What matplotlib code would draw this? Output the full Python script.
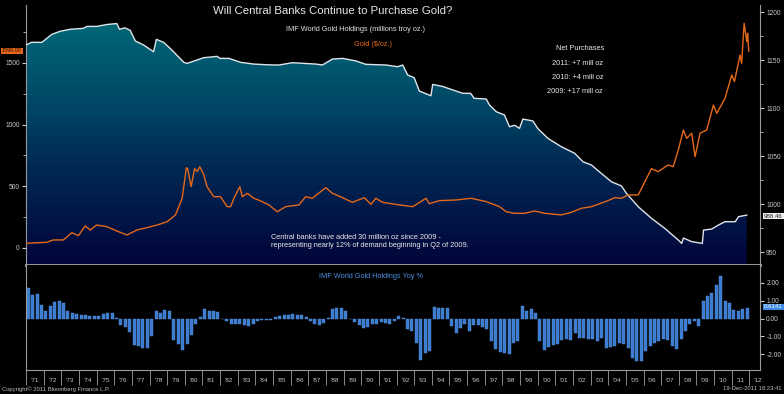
import numpy as np
import matplotlib
matplotlib.use('Agg')
import matplotlib.pyplot as plt
from matplotlib.colors import LinearSegmentedColormap
from matplotlib.patches import Polygon
from matplotlib.ticker import FixedLocator, MultipleLocator, NullFormatter

plt.rcParams['font.family'] = ['Liberation Sans Narrow', 'Liberation Sans', 'DejaVu Sans']

# ---------------- data ----------------
hold_years = [1971.0, 1971.3, 1971.9, 1972.46, 1972.95, 1973.5, 1974.26, 1974.45, 1975.0, 1975.6,
              1976.15, 1976.3, 1976.6, 1976.9, 1977.2, 1977.67, 1978.23, 1978.39, 1978.8, 1979.27,
              1979.94, 1980.13, 1981.07, 1981.83, 1982.0, 1982.5, 1983.16, 1983.9, 1984.7, 1985.34,
              1986.1, 1987.42, 1987.8, 1988.37, 1988.94, 1989.7, 1990.26, 1991.4, 1992.06, 1992.35,
              1992.63, 1993.0, 1993.29, 1993.95, 1994.05, 1994.62, 1995.37, 1995.76, 1996.2, 1996.4,
              1997.08, 1997.27, 1997.65, 1998.12, 1998.4, 1998.7, 1998.97, 1999.16, 1999.73, 2000.0,
              2000.58, 2001.34, 2002.1, 2002.57, 2003.05, 2003.6, 2004.18, 2004.75, 2005.03, 2005.7,
              2006.45, 2007.2, 2007.97, 2008.16, 2008.26, 2008.73, 2009.33, 2009.4, 2009.86, 2010.24,
              2010.62, 2011.2, 2011.38, 2011.85]
hold_values = [1165.6, 1168.4, 1168.4, 1176.7, 1180.0, 1182.0, 1183.0, 1185.0, 1185.0, 1187.0,
               1188.0, 1182.0, 1183.5, 1181.0, 1169.8, 1165.6, 1158.6, 1171.5, 1168.4, 1160.4,
               1147.6, 1146.5, 1152.4, 1153.8, 1151.7, 1151.7, 1147.6, 1145.8, 1145.0, 1144.8,
               1147.2, 1145.8, 1144.8, 1151.0, 1151.7, 1149.0, 1145.5, 1144.8, 1143.0, 1144.8,
               1134.4, 1131.6, 1117.7, 1112.8, 1124.6, 1122.4, 1117.7, 1115.3, 1115.3, 1110.1,
               1109.4, 1103.1, 1096.2, 1092.7, 1080.5, 1082.0, 1078.8, 1088.5, 1086.5, 1078.8,
               1068.4, 1059.7, 1052.8, 1044.0, 1040.6, 1032.0, 1023.2, 1018.8, 1011.1, 997.2,
               985.1, 974.7, 962.5, 959.0, 964.6, 960.8, 959.0, 972.9, 973.9, 978.1,
               981.6, 981.6, 986.8, 988.5]

gold_years = [1971.0, 1972.17, 1972.55, 1973.12, 1973.6, 1973.97, 1974.35, 1974.64, 1975.0, 1975.58,
              1976.15, 1976.72, 1977.29, 1977.86, 1978.43, 1979.0, 1979.47, 1979.85, 1980.09, 1980.16,
              1980.36, 1980.55, 1980.7, 1980.85, 1981.08, 1981.26, 1981.64, 1982.02, 1982.4, 1982.6,
              1982.78, 1983.12, 1983.26, 1983.54, 1983.92, 1984.3, 1984.77, 1985.24, 1985.72, 1986.47,
              1986.85, 1987.23, 1987.99, 1988.37, 1988.94, 1989.5, 1990.17, 1990.55, 1990.83, 1991.21,
              1992.16, 1992.92, 1993.67, 1993.86, 1994.43, 1995.37, 1996.23, 1997.08, 1997.84, 1998.22,
              1998.69, 1999.26, 1999.83, 2000.4, 2001.34, 2001.91, 2002.48, 2003.05, 2003.52, 2003.99,
              2004.37, 2004.75, 2005.13, 2005.7, 2006.17, 2006.45, 2006.83, 2007.4, 2007.68, 2007.97,
              2008.26, 2008.44, 2008.73, 2008.92, 2009.2, 2009.58, 2009.96, 2010.15, 2010.62, 2011.0,
              2011.15, 2011.47, 2011.56, 2011.7, 2011.85, 2011.9, 2011.96]
gold_values = [38, 46, 65, 65, 124, 100, 178, 146, 186, 173,
               138, 105, 146, 165, 186, 213, 268, 403, 651, 643,
               497, 643, 619, 659, 592, 497, 416, 416, 335, 335,
               403, 497, 416, 443, 403, 381, 349, 294, 335, 349,
               416, 403, 489, 443, 408, 370, 408, 354, 403, 370,
               349, 335, 403, 359, 384, 389, 403, 376, 335, 294,
               281, 281, 300, 281, 268, 289, 322, 335, 359, 384,
               408, 403, 430, 430, 565, 643, 619, 673, 659, 795,
               957, 889, 930, 740, 930, 957, 1159, 1092, 1214, 1403,
               1349, 1565, 1497, 1822, 1673, 1741, 1596]

# IMF World Gold Holdings YoY %, quarterly 1971Q1 .. 2011Q4
yoy_start_year = 1971
yoy_values = [1.7, 1.3, 1.4, 0.75,
              0.4, 0.7, 0.95, 1.0,
              0.85, 0.45, 0.3, 0.24,
              0.22, 0.2, 0.15, 0.15,
              0.15, 0.28, 0.3, 0.3,
              0.05, -0.35, -0.45, -0.75,
              -1.5, -1.55, -1.62, -1.66,
              -0.97, 0.45, 0.3, 0.47,
              0.43, -1.2, -1.45, -1.77,
              -1.4, -0.9, -0.3, 0.1,
              0.55, 0.45, 0.4, 0.35,
              -0.05, -0.15, -0.3, -0.3,
              -0.3, -0.35, -0.4, -0.28,
              -0.15, -0.1, -0.08, -0.1,
              0.08, 0.12, 0.18, 0.22,
              0.24, 0.22, 0.2, 0.1,
              -0.12, -0.3, -0.35, -0.25,
              0.05, 0.52, 0.62, 0.6,
              0.4, 0.0, -0.2, -0.35,
              -0.5, -0.45, -0.32, -0.28,
              -0.17, -0.25, -0.28, -0.13,
              0.15, 0.06, -0.6, -0.7,
              -1.34, -2.3, -1.9, -1.84,
              0.65, 0.62, 0.6, 0.62,
              -0.41, -0.78, -0.5, -0.28,
              -0.69, -0.35, -0.35, -0.45,
              -0.6, -1.25, -1.71, -1.85,
              -1.9, -2.0, -1.34, -1.25,
              0.71, 0.45, 0.52, 0.34,
              -1.25, -1.77, -1.6, -1.5,
              -1.43, -1.2, -1.15, -1.2,
              -0.78, -1.06, -1.1, -1.12,
              -1.15, -1.25, -1.1, -1.66,
              -1.6, -1.53, -1.34, -1.45,
              -1.62, -2.18, -2.37, -2.37,
              -1.8, -1.53, -1.34, -1.25,
              -1.15, -1.2, -1.53, -1.71,
              -1.15, -0.69, -0.32, -0.13,
              -0.4, 1.0, 1.27, 1.45,
              1.9, 2.38, 0.97, 0.9,
              0.47, 0.45, 0.55, 0.61]

year_labels = ["\u2019%02d" % (y % 100) for y in range(1971, 2013)]

title = "Will Central Banks Continue to Purchase Gold?"
hold_label = "IMF World Gold Holdings (millions troy oz.)"
gold_label = "Gold ($/oz.)"
net_lines = ["Net Purchases", "2011: +7 mill oz", "2010: +4 mill oz", "2009: +17 mill oz"]
note = "Central banks have added 30 million oz since 2009 -\nrepresenting nearly 12% of demand beginning in Q2 of 2009."
yoy_title = "IMF World Gold Holdings Yoy %"

# ---------------- figure ----------------
W, H = 784, 394
fig = plt.figure(figsize=(W / 100, H / 100), dpi=100, facecolor='black')


def fx(px):
    return px / W


def fy(py):
    return 1 - py / H


X0, X1 = 1971.0, 2012.6
GRAY = '#9a9a9a'
TICKC = '#c8c8c8'

# main panel: holdings (right axis) + gold (left axis)
ax = fig.add_axes([fx(26), fy(265), (760 - 26) / W, (265 - 5) / H])
ax.set_facecolor('black')
HY0, HY1 = 936.5, 1207.3

cmap = LinearSegmentedColormap.from_list('band', [(0.0, '#02063a'), (0.35, '#012652'),
                                                  (0.7, '#00506a'), (1.0, '#006c7a')])
grad = np.linspace(0, 1, 26).reshape(-1, 1)
img = ax.imshow(grad, extent=[X0, X1, HY0, HY1], aspect='auto', cmap=cmap,
                origin='lower', interpolation='nearest', zorder=1)
verts = [(hold_years[0], HY0)] + list(zip(hold_years, hold_values)) + [(hold_years[-1], HY0)]
poly = Polygon(verts, closed=True, transform=ax.transData, facecolor='none', edgecolor='none')
ax.add_patch(poly)
img.set_clip_path(poly)
ax.plot(hold_years, hold_values, color='#dfe4ea', lw=1.0, zorder=3)
ax.set_xlim(X0, X1)
ax.set_ylim(HY0, HY1)
ax.set_xticks([])
ax.spines['top'].set_visible(False)
ax.spines['left'].set_color(GRAY)
ax.spines['right'].set_color(GRAY)
ax.spines['bottom'].set_color('#a8a8a8')
ax.spines['bottom'].set_linewidth(2.0)
ax.spines['left'].set_linewidth(0.8)
ax.spines['right'].set_linewidth(0.8)

axg = ax.twinx()
axg.plot(gold_years, gold_values, color='#e4691a', lw=1.0, zorder=4)
axg.set_ylim(-138, 1970)
axg.set_xlim(X0, X1)
for s in axg.spines.values():
    s.set_visible(False)

# tick sides (after twinx, which resets them)
ax.yaxis.tick_right()
ax.yaxis.set_label_position('right')
axg.yaxis.tick_left()
axg.yaxis.set_label_position('left')

ax.yaxis.set_major_locator(FixedLocator([950, 1000, 1050, 1100, 1150, 1200]))
ax.yaxis.set_minor_locator(MultipleLocator(25))
ax.tick_params(axis='y', which='major', direction='out', length=3, width=0.8, color=TICKC,
               labelsize=4.8, labelcolor=TICKC, pad=1.5, left=False, labelleft=False,
               right=True, labelright=True)
ax.tick_params(axis='y', which='minor', direction='out', length=2, width=0.6, color=TICKC,
               left=False, right=True)

axg.yaxis.set_major_locator(FixedLocator([0, 500, 1000, 1500]))
axg.yaxis.set_minor_locator(MultipleLocator(250))
axg.tick_params(axis='y', which='major', direction='out', length=3, width=0.8, color=TICKC,
                labelsize=4.8, labelcolor=TICKC, pad=1.5, left=True, labelleft=True,
                right=False, labelright=False)
axg.tick_params(axis='y', which='minor', direction='out', length=2, width=0.6, color=TICKC,
                left=True, right=False)

# bottom panel: YoY bars
axb = fig.add_axes([fx(26), fy(370), (760 - 26) / W, (370 - 265) / H])
axb.set_facecolor('black')
qx = [yoy_start_year + i * 0.25 + 0.125 for i in range(len(yoy_values))]
axb.bar(qx, yoy_values, width=0.17, color='#3b7cd0', edgecolor='#5a95e0', linewidth=0.3)
axb.set_xlim(X0, X1)
axb.set_ylim(-2.88, 3.0)
axb.yaxis.tick_right()
axb.yaxis.set_major_locator(FixedLocator([-2, -1, 0, 1, 2]))
axb.yaxis.set_major_formatter(plt.FuncFormatter(lambda v, p: '%.2f' % v))
axb.tick_params(axis='y', which='major', direction='out', length=3, width=0.8, color=TICKC,
                labelsize=4.8, labelcolor=TICKC, pad=1.5)
years = list(range(1971, 2013))
axb.xaxis.set_major_locator(FixedLocator(years))
axb.xaxis.set_major_formatter(NullFormatter())
axb.xaxis.set_minor_locator(FixedLocator([y + 0.5 for y in years]))
axb.set_xticklabels(year_labels, minor=True)
axb.tick_params(axis='x', which='major', direction='out', length=11, width=0.7, color='#8a8a8a')
axb.tick_params(axis='x', which='minor', length=0, labelsize=4.6, labelcolor=TICKC, pad=6)
axb.spines['top'].set_visible(False)
for s in ['left', 'right', 'bottom']:
    axb.spines[s].set_color(GRAY)
    axb.spines[s].set_linewidth(0.8)

# ---------------- texts ----------------
fig.text(fx(333), fy(11), title, ha='center', va='center', fontsize=8.2, color='#e8e8e8')
fig.text(fx(356), fy(29.5), hold_label, ha='center', va='center', fontsize=5.3, color='#e0e0e0')
fig.text(fx(373), fy(44), gold_label, ha='center', va='center', fontsize=5.3, color='#e4691a')
for txt, py, rx in zip(net_lines, [49, 63.3, 77.3, 91.7], [604, 603, 603, 603]):
    fig.text(fx(rx), fy(py), txt, ha='right', va='center', fontsize=5.3, color='#e8e8e8')
fig.text(fx(271), fy(241.5), note, ha='left', va='center', fontsize=5.3, color='#e8e8e8',
         linespacing=1.15)
fig.text(fx(371), fy(276.7), yoy_title, ha='center', va='center', fontsize=5.3, color='#4d8fe0')

# last-value boxes
fig.text(fx(12), fy(51), '%.2f' % gold_values[-1], ha='center', va='center', fontsize=4.0,
         color='#3a0a00', bbox=dict(boxstyle='square,pad=0.15', fc='#e4691a', ec='none'))
fig.text(fx(764), fy(216), '988.46', ha='left', va='center', fontsize=4.4,
         color='#202020', bbox=dict(boxstyle='square,pad=0.15', fc='#f0f0f0', ec='none'))
fig.text(fx(764), fy(307), '0.6141', ha='left', va='center', fontsize=4.4,
         color='white', bbox=dict(boxstyle='square,pad=0.15', fc='#3b8ae6', ec='none'))

fig.text(fx(2), fy(389), 'Copyright\u00a9 2011 Bloomberg Finance L.P.', ha='left', va='center',
         fontsize=4.2, color='#bdbdbd')
fig.text(fx(782), fy(389), '19-Dec-2011 18:23:41', ha='right', va='center',
         fontsize=4.2, color='#bdbdbd')

fig.savefig('out.png', dpi=100, facecolor='black')
